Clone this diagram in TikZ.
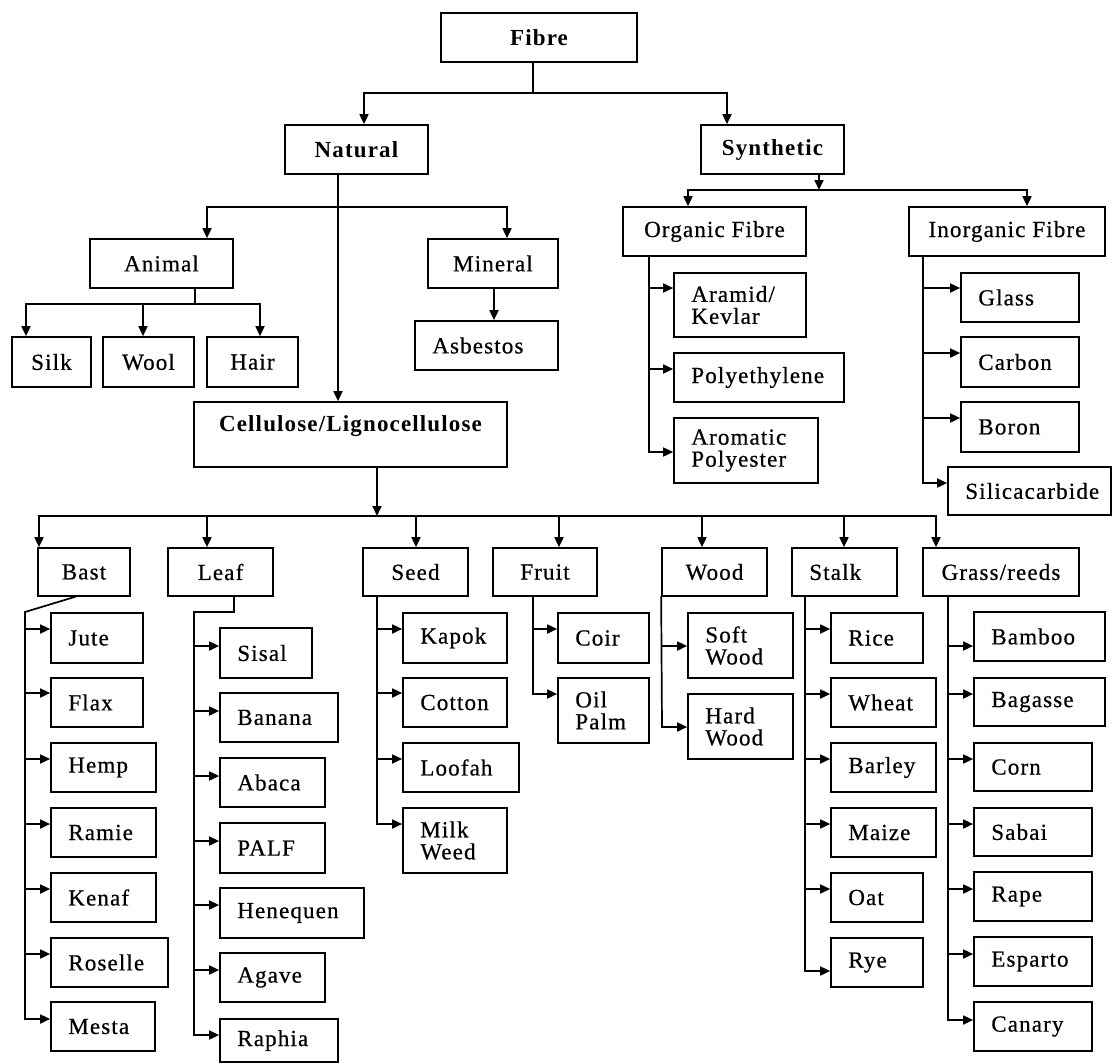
\documentclass[tikz,border=0pt]{standalone}
\usepackage{fontspec}
\setmainfont[LetterSpace=5, UprightFeatures={FakeBold=0.6}]{Liberation Serif}
\usetikzlibrary{arrows.meta}
\newcommand\fnt{\fontsize{23}{22}\selectfont}
\tikzset{
  bx/.style={draw, line width=1.7pt, inner sep=0pt, font=\fnt},
  txt/.style={inner sep=0pt, align=left, font=\fnt},
  ln/.style={line width=1.7pt, line cap=rect},
  arr/.style={line width=1.7pt, line cap=rect, -{Triangle[length=10pt,width=9pt]}},
}
% centred box: name x1 y1 x2 y2 text
\newcommand\cbox[6]{%
 \pgfmathsetmacro\myBW{#4-#2}\pgfmathsetmacro\myBH{#5-#3}%
 \pgfmathsetmacro\myCX{(#2+#4)/2}\pgfmathsetmacro\myCY{(#3+#5)/2}%
 \node[bx, minimum width=\myBW pt, minimum height=\myBH pt, align=center] (#1) at (\myCX,\myCY) {#6};}
% left-aligned box: name x1 y1 x2 y2 pad text
\newcommand\lbox[7]{%
 \pgfmathsetmacro\myBW{#4-#2}\pgfmathsetmacro\myBH{#5-#3}%
 \pgfmathsetmacro\myCX{(#2+#4)/2}\pgfmathsetmacro\myCY{(#3+#5)/2}%
 \node[bx, minimum width=\myBW pt, minimum height=\myBH pt] (#1) at (\myCX,\myCY) {};
 \node[txt, anchor=west] (#1-t) at ([xshift=#6pt]#1.west) {#7};}
% child with arrow from trunk: name x1 y1 x2 y2 trunkx arrowy text
\newcommand\kid[8]{%
 \lbox{#1}{#2}{#3}{#4}{#5}{18}{#8}%
 \coordinate (#1-a) at (#6,#7);
 \draw[arr] (#1-a) -- (#1.west |- #1-a);}
\begin{document}
\begin{tikzpicture}[x=1pt,y=-1pt]
\fill[white] (0,0) rectangle (1113,1063);
\useasboundingbox (0,0) rectangle (1113,1063);

% top levels
\cbox{fibre}{441}{13}{637}{62}{\bfseries Fibre}
\cbox{natural}{285}{125}{428}{174}{\bfseries Natural}
\cbox{synthetic}{701}{125}{844}{174}{\bfseries Synthetic}
\cbox{organic}{623}{207}{806}{256}{Organic Fibre}
\cbox{inorganic}{909}{207}{1105}{256}{Inorganic Fibre}
\cbox{animal}{90}{239}{233}{288}{Animal}
\cbox{mineral}{428}{239}{558}{288}{Mineral}
\cbox{silk}{12}{337}{91}{387}{Silk}
\cbox{wool}{103}{337}{194}{387}{Wool}
\cbox{hair}{207}{337}{298}{387}{Hair}
\lbox{asbestos}{415}{321}{558}{370}{18}{Asbestos}
\cbox{cellulose}{194}{402}{507}{467}{}
\node[txt, font=\fnt\bfseries] (cellulose-t) at (350.5,426) {Cellulose/Lignocellulose};

% Fibre connectors
\coordinate (fb) at (533,93);
\draw[ln] (fibre.south -| fb) -- (fb);
\draw[arr] (fb) -| (natural.north -| 364,0);
\draw[arr] (fb) -| (synthetic.north -| 727,0);

% Synthetic connectors
\coordinate (sb) at (819,190);
\draw[arr] (synthetic.south -| sb) -- (sb);
\coordinate (sbl) at (688,190);
\coordinate (sbr) at (1027,190);
\draw[ln] (sbl) -- (sbr);
\draw[arr] (sbl) -- (organic.north -| sbl);
\draw[arr] (sbr) -- (inorganic.north -| sbr);

% Natural connectors
\coordinate (nb) at (338,207);
\draw[arr] (natural.south -| nb) -- (cellulose.north -| nb);
\coordinate (nbl) at (207,207);
\coordinate (nbr) at (507,207);
\draw[ln] (nbl) -- (nbr);
\draw[arr] (nbl) -- (animal.north -| nbl);
\draw[arr] (nbr) -- (mineral.north -| nbr);
\draw[arr] (mineral.south -| 494,0) -- (asbestos.north -| 494,0);

% Animal connectors
\coordinate (ab) at (195,304);
\draw[ln] (animal.south -| ab) -- (ab);
\coordinate (abl) at (26,304);
\coordinate (abm) at (143,304);
\coordinate (abr) at (260,304);
\draw[ln] (abl) -- (abr);
\draw[arr] (abl) -- (silk.north -| abl);
\draw[arr] (abm) -- (wool.north -| abm);
\draw[arr] (abr) -- (hair.north -| abr);

% Synthetic children
\draw[ln] (organic.south -| 649,0) -- (649,452);
\kid{aramid}{674}{273}{806}{337}{649}{288}{Aramid/\\Kevlar}
\kid{poly}{674}{353}{844}{402}{649}{369}{Polyethylene}
\kid{arom}{674}{418}{818}{483}{649}{452}{Aromatic\\Polyester}
\draw[ln] (inorganic.south -| 923,0) -- (923,483);
\kid{glass}{961}{273}{1079}{322}{923}{288}{Glass}
\kid{carbon}{961}{337}{1079}{387}{923}{353}{Carbon}
\kid{boron}{961}{402}{1079}{452}{923}{418}{Boron}
\kid{silic}{948}{467}{1111}{515}{923}{483}{Silicacarbide}

% categories
\cbox{bast}{38}{548}{130}{596}{Bast}
\cbox{leaf}{168}{548}{273}{596}{Leaf}
\cbox{seed}{363}{548}{468}{596}{Seed}
\cbox{fruit}{493}{548}{597}{596}{Fruit}
\cbox{wood}{662}{548}{767}{596}{Wood}
\lbox{stalk}{792}{548}{897}{596}{18}{Stalk}
\cbox{grass}{923}{548}{1079}{596}{Grass/reeds}

\coordinate (cb) at (377,516);
\draw[arr] (cellulose.south -| cb) -- (cb);
\coordinate (cbl) at (39,516);
\coordinate (cbr) at (936,516);
\draw[ln] (cbl) -- (cbr);
\draw[arr] (cbl) -- (bast.north -| cbl);
\draw[arr] (cbl -| 207,0) -- (leaf.north -| 207,0);
\draw[arr] (cbl -| 416,0) -- (seed.north -| 416,0);
\draw[arr] (cbl -| 559,0) -- (fruit.north -| 559,0);
\draw[arr] (cbl -| 702,0) -- (wood.north -| 702,0);
\draw[arr] (cbl -| 844,0) -- (stalk.north -| 844,0);
\draw[arr] (cbr) -- (grass.north -| cbr);

% Bast
\draw[ln] (bast.south -| 75,0) -- (25,612) -- (25,1019);
\kid{jute}{51}{613}{143}{663}{25}{629}{Jute}
\kid{flax}{51}{678}{143}{727}{25}{693}{Flax}
\kid{hemp}{51}{743}{156}{792}{25}{759}{Hemp}
\kid{ramie}{51}{808}{156}{857}{25}{824}{Ramie}
\kid{kenaf}{51}{873}{156}{922}{25}{889}{Kenaf}
\kid{roselle}{51}{938}{168}{987}{25}{954}{Roselle}
\kid{mesta}{51}{1002}{155}{1051}{25}{1019}{Mesta}

% Leaf
\draw[ln] (leaf.south -| 234,0) -- (234,612) -- (194,612) -- (194,1035);
\kid{sisal}{220}{628}{312}{678}{194}{646}{Sisal}
\kid{banana}{220}{693}{338}{742}{194}{711}{Banana}
\kid{abaca}{220}{758}{325}{807}{194}{776}{Abaca}
\kid{palf}{220}{823}{325}{873}{194}{841}{PALF}
\kid{henequen}{220}{888}{364}{938}{194}{905}{Henequen}
\kid{agave}{220}{953}{325}{1002}{194}{970}{Agave}
\kid{raphia}{220}{1019}{338}{1062}{194}{1035}{Raphia}

% Seed
\draw[ln] (seed.south -| 377,0) -- (377,824);
\kid{kapok}{403}{613}{507}{663}{377}{629}{Kapok}
\kid{cotton}{403}{678}{507}{727}{377}{693}{Cotton}
\kid{loofah}{403}{743}{519}{792}{377}{759}{Loofah}
\kid{milk}{403}{808}{507}{873}{377}{824}{Milk\\Weed}

% Fruit
\draw[ln] (fruit.south -| 533,0) -- (533,694);
\kid{coir}{558}{613}{649}{663}{533}{629}{Coir}
\kid{oil}{558}{678}{649}{743}{533}{694}{Oil\\Palm}

% Wood
\draw[ln] (wood.south west) -- (662,727);
\kid{soft}{688}{613}{793}{678}{662}{646}{Soft\\Wood}
\kid{hard}{688}{694}{793}{759}{662}{727}{Hard\\Wood}

% Stalk
\draw[ln] (stalk.south -| 805,0) -- (805,971);
\kid{rice}{831}{613}{923}{663}{805}{629}{Rice}
\kid{wheat}{831}{678}{936}{727}{805}{694}{Wheat}
\kid{barley}{831}{743}{936}{792}{805}{759}{Barley}
\kid{maize}{831}{808}{936}{857}{805}{824}{Maize}
\kid{oat}{831}{873}{923}{922}{805}{889}{Oat}
\kid{rye}{831}{938}{923}{987}{805}{971}{Rye}

% Grass/reeds
\draw[ln] (grass.south -| 948,0) -- (948,1020);
\kid{bamboo}{974}{612}{1105}{661}{948}{646}{Bamboo}
\kid{bagasse}{974}{678}{1105}{726}{948}{694}{Bagasse}
\kid{corn}{974}{743}{1092}{791}{948}{759}{Corn}
\kid{sabai}{974}{808}{1092}{856}{948}{824}{Sabai}
\kid{rape}{974}{872}{1092}{921}{948}{889}{Rape}
\kid{esparto}{974}{937}{1092}{986}{948}{954}{Esparto}
\kid{canary}{974}{1002}{1092}{1051}{948}{1020}{Canary}
\end{tikzpicture}
\end{document}
